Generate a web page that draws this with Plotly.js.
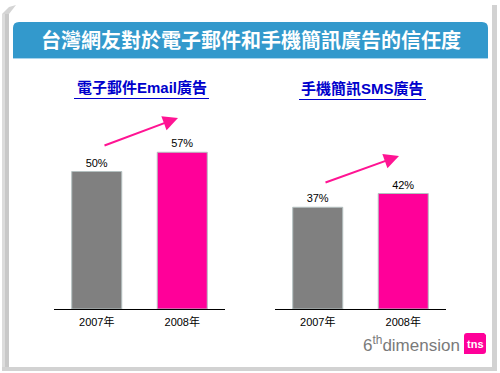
<!DOCTYPE html>
<html>
<head>
<meta charset="utf-8">
<script src="https://cdn.plot.ly/plotly-3.0.1.min.js"></script>
<style>html,body{margin:0;padding:0;background:#fff;}#chart{width:500px;height:373px;}</style>
</head>
<body>
<div id="chart"></div>
<script>
// ---- data ----
const mainTitle = '台灣網友對於電子郵件和手機簡訊廣告的信任度';
const years = ['2007年', '2008年'];
const emailTitle = '電子郵件Email廣告';
const emailValues = [50, 57];
const smsTitle = '手機簡訊SMS廣告';
const smsValues = [37, 42];
const barColors = ['#808080', '#ff0099'];

// ---- helpers (pixel -> paper) ----
const W = 500, H = 373;
const px = x => x / W;
const py = y => 1 - y / H;
const FONT = "Arial, 'Liberation Sans', 'Noto Sans CJK TC', sans-serif";

function barTrace(vals, xa, ya) {
  return {
    type: 'bar', x: years, y: vals, xaxis: xa, yaxis: ya,
    width: 0.585,
    marker: { color: barColors, line: { color: '#b4c0c0', width: 1 } },
    text: vals.map(v => v + '%'), textposition: 'outside',
    textfont: { family: FONT, size: 11, color: '#000' },
    cliponaxis: false, hoverinfo: 'skip', showlegend: false
  };
}

const xBase = {
  type: 'category', range: [-0.5, 1.5], showline: true, linecolor: '#000', linewidth: 1,
  ticks: '', showgrid: false, zeroline: false, fixedrange: true, ticklabelstandoff: 3,
  tickfont: { family: FONT, size: 11, color: '#000' }
};
const yBase = { range: [0, 76], visible: false, fixedrange: true, domain: [py(309), py(100)] };

function note(x, y, text, font, extra) {
  return Object.assign({ xref: 'paper', yref: 'paper', x: px(x), y: py(y), xanchor: 'center', yanchor: 'middle', text: text, showarrow: false, font: font }, extra || {});
}

// banner path with rounded top corners
const bx0 = 13, bx1 = 488, by0 = 22, by1 = 58, r = 6;
const bannerPath = `M ${px(bx0)},${py(by1)} L ${px(bx0)},${py(by0 + r)} Q ${px(bx0)},${py(by0)} ${px(bx0 + r)},${py(by0)} ` +
  `L ${px(bx1 - r)},${py(by0)} Q ${px(bx1)},${py(by0)} ${px(bx1)},${py(by0 + r)} L ${px(bx1)},${py(by1)} Z`;

const shapes = [
  // frame shadow
  { type: 'rect', xref: 'paper', yref: 'paper', x0: px(2), x1: px(9), y0: py(370), y1: py(14), fillcolor: '#dcdcdc', line: { width: 0 }, layer: 'below' },
  { type: 'rect', xref: 'paper', yref: 'paper', x0: px(5), x1: px(9), y0: py(370), y1: py(14), fillcolor: '#c8c8c8', line: { width: 0 }, layer: 'below' },
  { type: 'path', xref: 'paper', yref: 'paper', path: `M ${px(2)},${py(14)} L ${px(9)},${py(7)} L ${px(16)},${py(5)} L ${px(9)},${py(14)} Z`, fillcolor: '#d4d4d4', line: { width: 0 }, layer: 'below' },
  { type: 'rect', xref: 'paper', yref: 'paper', x0: px(492), x1: px(497), y0: py(370), y1: py(5), fillcolor: '#d2d2d2', line: { width: 0 }, layer: 'below' },
  { type: 'rect', xref: 'paper', yref: 'paper', x0: px(2), x1: px(497), y0: py(371), y1: py(367), fillcolor: '#d2d2d2', line: { width: 0 }, layer: 'below' },
  // banner
  { type: 'path', xref: 'paper', yref: 'paper', path: bannerPath, fillcolor: '#3399cc', line: { width: 0 }, layer: 'below' },
  { type: 'line', xref: 'paper', yref: 'paper', x0: px(bx0), x1: px(bx1), y0: py(58.5), y1: py(58.5), line: { color: '#a8d4ec', width: 1 } },
  // subtitle underlines
  { type: 'line', xref: 'paper', yref: 'paper', x0: px(74), x1: px(209), y0: py(98.5), y1: py(98.5), line: { color: '#0000cc', width: 1 } },
  { type: 'line', xref: 'paper', yref: 'paper', x0: px(299), x1: px(426), y0: py(99.5), y1: py(99.5), line: { color: '#0000cc', width: 1 } },
  // tns logo box
  { type: 'path', xref: 'paper', yref: 'paper', path: `M ${px(464)},${py(354)} L ${px(464)},${py(336)} Q ${px(464)},${py(333)} ${px(467)},${py(333)} L ${px(484)},${py(333)} L ${px(486)},${py(335)} L ${px(486)},${py(351)} Q ${px(486)},${py(354)} ${px(483)},${py(354)} Z`, fillcolor: '#ff0099', line: { width: 0 } }
];

const annotations = [
  note(250.5, 41, '<b>' + mainTitle + '</b>', { family: FONT, size: 20, color: '#fff' }),
  note(141.5, 88, '<b>' + emailTitle + '</b>', { family: FONT, size: 15, color: '#0000cc' }),
  note(362.5, 89, '<b>' + smsTitle + '</b>', { family: FONT, size: 15, color: '#0000cc' }),
  // trend arrows
  { xref: 'paper', yref: 'paper', x: px(178), y: py(118), ax: -75, ay: 28, text: '', showarrow: true, arrowhead: 2, arrowsize: 1.5, arrowwidth: 2, arrowcolor: '#ff1493', standoff: 0 },
  { xref: 'paper', yref: 'paper', x: px(399), y: py(156), ax: -75, ay: 27, text: '', showarrow: true, arrowhead: 2, arrowsize: 1.5, arrowwidth: 2, arrowcolor: '#ff1493', standoff: 0 },
  // logo
  note(462, 344, '6<sup>th</sup>dimension', { family: FONT, size: 17, color: '#7a7a7a' }, { xanchor: 'right' }),
  note(475, 343.5, '<b>tns</b>', { family: FONT, size: 11, color: '#fff' })
];

const layout = {
  width: W, height: H, margin: { l: 0, r: 0, t: 0, b: 0 },
  paper_bgcolor: '#fff', plot_bgcolor: 'rgba(0,0,0,0)',
  font: { family: FONT },
  showlegend: false, bargap: 0,
  xaxis: Object.assign({}, xBase, { domain: [px(54), px(225)], anchor: 'y' }),
  yaxis: Object.assign({}, yBase, { anchor: 'x' }),
  xaxis2: Object.assign({}, xBase, { domain: [px(275), px(446)], anchor: 'y2' }),
  yaxis2: Object.assign({}, yBase, { anchor: 'x2' }),
  shapes: shapes, annotations: annotations
};

Plotly.newPlot('chart', [barTrace(emailValues, 'x', 'y'), barTrace(smsValues, 'x2', 'y2')], layout, { staticPlot: true, displayModeBar: false });
</script>
</body>
</html>
